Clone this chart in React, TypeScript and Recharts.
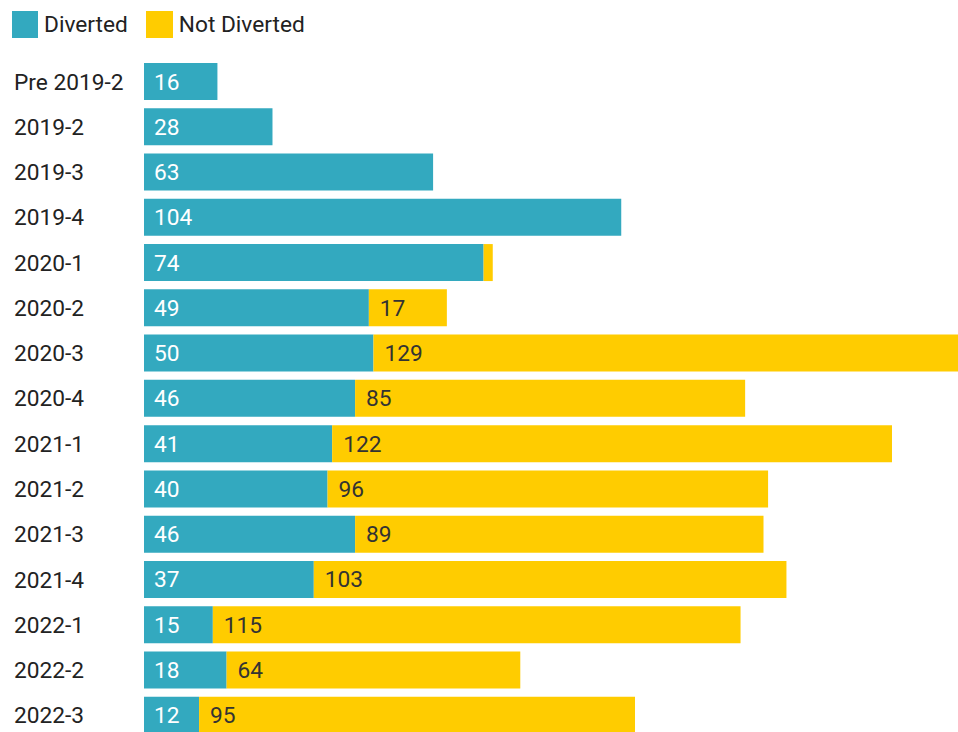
import { BarChart, Bar, XAxis, YAxis, LabelList } from 'recharts'

const periods = [
  'Pre 2019-2', '2019-2', '2019-3', '2019-4', '2020-1', '2020-2', '2020-3', '2020-4',
  '2021-1', '2021-2', '2021-3', '2021-4', '2022-1', '2022-2', '2022-3',
]
const diverted = [16, 28, 63, 104, 74, 49, 50, 46, 41, 40, 46, 37, 15, 18, 12]
const notDiverted = [0, 0, 0, 0, 2, 17, 129, 85, 122, 96, 89, 103, 115, 64, 95]

const BLUE = '#33a9bf'
const YELLOW = '#ffcc00'
const FONT = 'Roboto, "Noto Sans", sans-serif'
const FS = 22.7

const data = periods.map((period, i) => ({
  period,
  diverted: diverted[i],
  notDiverted: notDiverted[i],
}))

const hideSmall = (v: any) => (Number(v) >= 5 ? v : '')

const LeftTick = (props: any) => {
  const { y, payload } = props
  return (
    <text x={14} y={y} dy="0.35em" textAnchor="start" fill="#222" fontSize={FS} fontFamily={FONT}>
      {payload.value}
    </text>
  )
}

export default function App() {
  return (
    <div style={{ position: 'absolute', left: 0, top: 0, width: 958, height: 732, overflow: 'hidden', background: '#fff', fontFamily: FONT }}>
      <div style={{ position: 'absolute', left: 12, top: 11, display: 'flex', alignItems: 'center', fontSize: FS, color: '#222', lineHeight: '27px' }}>
        <span style={{ width: 26, height: 27, background: BLUE, display: 'inline-block' }} />
        <span style={{ marginLeft: 6 }}>Diverted</span>
        <span style={{ width: 27, height: 27, background: YELLOW, display: 'inline-block', marginLeft: 18 }} />
        <span style={{ marginLeft: 6 }}>Not Diverted</span>
      </div>
      <BarChart
        width={980}
        height={738}
        data={data}
        layout="vertical"
        margin={{ top: 59, right: 10, bottom: 0, left: 0 }}
      >
        <XAxis type="number" domain={[0, 180]} hide />
        <YAxis
          type="category"
          dataKey="period"
          width={144}
          axisLine={false}
          tickLine={false}
          tick={<LeftTick />}
          interval={0}
        />
        <Bar dataKey="diverted" stackId="a" fill={BLUE} barSize={37} isAnimationActive={false}>
          <LabelList dataKey="diverted" position="insideLeft" offset={10} fill="#fff" fontSize={FS} fontFamily={FONT} formatter={hideSmall} />
        </Bar>
        <Bar dataKey="notDiverted" stackId="a" fill={YELLOW} barSize={37} isAnimationActive={false}>
          <LabelList dataKey="notDiverted" position="insideLeft" offset={11} fill="#333" fontSize={FS} fontFamily={FONT} formatter={hideSmall} />
        </Bar>
      </BarChart>
    </div>
  )
}
